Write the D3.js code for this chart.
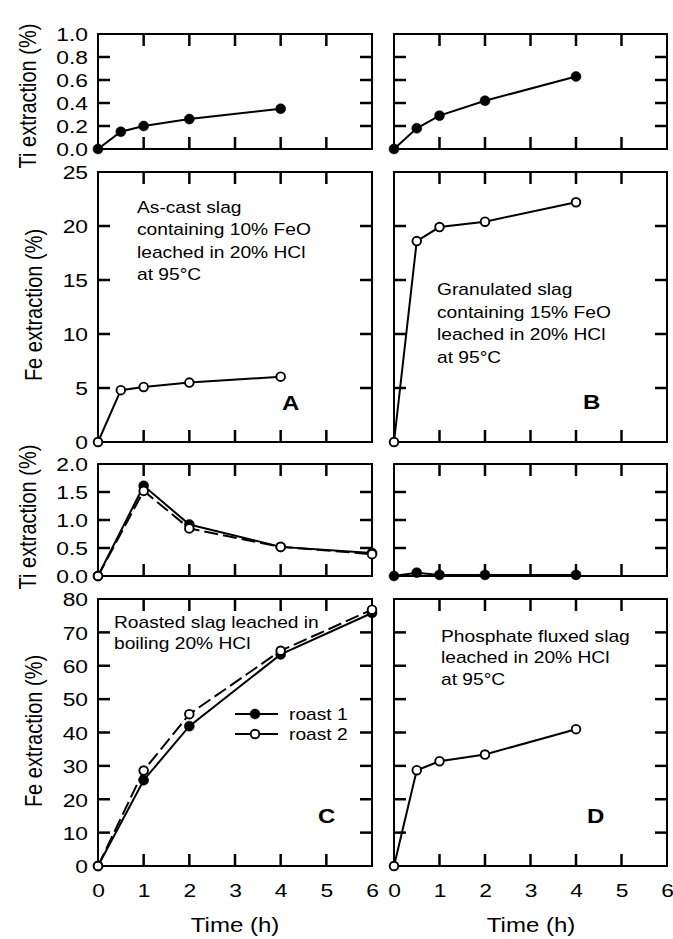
<!DOCTYPE html>
<html>
<head>
<meta charset="utf-8">
<script src="https://cdn.jsdelivr.net/npm/d3@7"></script>
<style>
body { margin: 0; background: #fff; }
svg text { font-family: "Liberation Sans", Arial, Helvetica, sans-serif; fill: #000; }
</style>
</head>
<body>
<div id="chart"></div>
<script>
// leaching times (h)
const timeAB = [0, 0.5, 1, 2, 4]
const timeC = [0, 1, 2, 4, 6]
const timeD = [0, 0.5, 1, 2, 4]

// A: as-cast slag, B: granulated slag
const tiA = [0, 0.15, 0.2, 0.26, 0.35]
const feA = [0, 4.8, 5.1, 5.5, 6.05]
const tiB = [0, 0.18, 0.29, 0.42, 0.63]
const feB = [0, 18.6, 19.9, 20.4, 22.2]

// C: roasted slag, two roasts
const tiRoast1 = [0, 1.61, 0.92, 0.52, 0.41]
const tiRoast2 = [0, 1.52, 0.85, 0.52, 0.39]
const feRoast1 = [0, 25.7, 41.9, 63.4, 75.8]
const feRoast2 = [0, 28.6, 45.5, 64.5, 76.8]

// D: phosphate fluxed slag
const tiD = [0, 0.06, 0.02, 0.02, 0.02]
const feD = [0, 28.7, 31.4, 33.4, 41.0]

// tick labels
const xTicks = [0, 1, 2, 3, 4, 5, 6]
const tiTicksAB = [0, 0.2, 0.4, 0.6, 0.8, 1.0]
const feTicksAB = [0, 5, 10, 15, 20, 25]
const tiTicksCD = [0, 0.5, 1.0, 1.5, 2.0]
const feTicksCD = [0, 10, 20, 30, 40, 50, 60, 70, 80]

const W = 673, H = 939
const sx = 1.2   // the scanned type is a bit wider than tall
const tickLen = 12

const svg = d3.select("#chart")
    .append("svg")
    .attr("width", W)
    .attr("height", H)

const cols = [[98, 372], [394, 667]]
const rows = [[34, 149], [172, 442], [464, 576], [599, 866]]
const panels = []

function wide(sel, x, y) {
    return sel.attr("transform", `translate(${x},${y}) scale(${sx},1)`)
}

function panel(col, row, yTicks, fmt) {
    const [x0, x1] = cols[col], [y0, y1] = rows[row]
    const x = d3.scaleLinear().domain([0, 6]).range([x0, x1])
    const y = d3.scaleLinear().domain([0, yTicks[yTicks.length - 1]]).range([y1, y0])
    const g = svg.append("g")

    g.append("rect")
        .attr("x", x0).attr("y", y0)
        .attr("width", x1 - x0).attr("height", y1 - y0)
        .attr("fill", "none")
        .attr("stroke", "#000")
        .attr("stroke-width", 2)

    if (col === 0) {
        const ax = g.append("g").attr("transform", `translate(${x0},0)`)
            .call(d3.axisLeft(y).tickValues(yTicks).tickSize(0).tickFormat(fmt))
        ax.select(".domain").remove()
        ax.selectAll(".tick text")
            .attr("x", null).attr("dy", "0.36em")
            .style("font-size", "19px")
            .attr("transform", `translate(-10,0) scale(${sx},1)`)
    }
    if (row === 3) {
        const ax = g.append("g").attr("transform", `translate(0,${y1})`)
            .call(d3.axisBottom(x).tickValues(xTicks).tickSize(0).tickFormat(d3.format("d")))
        ax.select(".domain").remove()
        ax.selectAll(".tick text")
            .attr("y", null).attr("dy", null)
            .style("font-size", "19px")
            .attr("transform", `translate(0,31) scale(${sx},1)`)
    }
    const p = {g, x, y, x0, x1, y0, y1, yTicks}
    panels.push(p)
    return p
}

// inward tick marks on all four sides of every panel, drawn last
function drawTicks() {
    const segs = []
    panels.forEach(p => {
        p.yTicks.slice(1, -1).forEach(v => {
            segs.push([p.x0, p.y(v), p.x0 + tickLen, p.y(v)])
            segs.push([p.x1, p.y(v), p.x1 - tickLen, p.y(v)])
        })
        xTicks.slice(1, -1).forEach(v => {
            segs.push([p.x(v), p.y0, p.x(v), p.y0 + tickLen])
            segs.push([p.x(v), p.y1, p.x(v), p.y1 - tickLen])
        })
    })
    svg.append("g")
        .attr("class", "frame-ticks")
        .selectAll("line")
        .data(segs)
        .join("line")
        .attr("x1", d => d[0]).attr("y1", d => d[1])
        .attr("x2", d => d[2]).attr("y2", d => d[3])
        .style("stroke", "#000")
        .style("stroke-width", "2.5px")
        .style("stroke-linecap", "butt")
}

function trace(p, xs, ys, dash) {
    const pts = xs.map((t, i) => [t, ys[i]])
    p.g.append("path")
        .datum(pts)
        .attr("d", d3.line().x(d => p.x(d[0])).y(d => p.y(d[1])))
        .attr("fill", "none")
        .attr("stroke", "#000")
        .attr("stroke-width", 2)
        .attr("stroke-dasharray", dash || null)
}

function dots(p, xs, ys, filled) {
    const pts = xs.map((t, i) => [t, ys[i]])
    p.g.append("g").selectAll("circle")
        .data(pts)
        .join("circle")
        .attr("cx", d => p.x(d[0]))
        .attr("cy", d => p.y(d[1]))
        .attr("r", filled ? 5 : 4.3)
        .attr("fill", filled ? "#000" : "#fff")
        .attr("stroke", "#000")
        .attr("stroke-width", filled ? 0.5 : 1.9)
}

function note(lines, x, y, step, size, bold) {
    lines.forEach((t, i) => {
        wide(svg.append("text"), x, y + i * step)
            .style("font-size", size + "px")
            .style("font-weight", bold ? "bold" : "normal")
            .text(t)
    })
}

function ylabel(t, x, cy) {
    svg.append("text")
        .attr("transform", `translate(${x},${cy}) scale(${sx},1) rotate(-90)`)
        .attr("text-anchor", "middle")
        .style("font-size", "20px")
        .text(t)
}

const f1 = d3.format(".1f"), f0 = d3.format("d")

// rows 1 and 2: panels A and B
const pTiA = panel(0, 0, tiTicksAB, f1)
const pTiB = panel(1, 0, tiTicksAB, f1)
const pFeA = panel(0, 1, feTicksAB, f0)
const pFeB = panel(1, 1, feTicksAB, f0)
// rows 3 and 4: panels C and D
const pTiC = panel(0, 2, tiTicksCD, f1)
const pTiD = panel(1, 2, tiTicksCD, f1)
const pFeC = panel(0, 3, feTicksCD, f0)
const pFeD = panel(1, 3, feTicksCD, f0)

trace(pTiA, timeAB, tiA); dots(pTiA, timeAB, tiA, true)
trace(pTiB, timeAB, tiB); dots(pTiB, timeAB, tiB, true)
trace(pFeA, timeAB, feA); dots(pFeA, timeAB, feA, false)
trace(pFeB, timeAB, feB); dots(pFeB, timeAB, feB, false)

trace(pTiC, timeC, tiRoast2, "14,5"); trace(pTiC, timeC, tiRoast1)
dots(pTiC, timeC, tiRoast1, true); dots(pTiC, timeC, tiRoast2, false)
trace(pTiD, timeD, tiD); dots(pTiD, timeD, tiD, true)

trace(pFeC, timeC, feRoast2, "14,5"); trace(pFeC, timeC, feRoast1)
dots(pFeC, timeC, feRoast1, true); dots(pFeC, timeC, feRoast2, false)
trace(pFeD, timeD, feD); dots(pFeD, timeD, feD, false)

// legend in C
const leg = svg.append("g")
;[["roast 1", true, 714], ["roast 2", false, 734]].forEach(([t, filled, ly]) => {
    leg.append("line").attr("x1", 235).attr("x2", 278).attr("y1", ly).attr("y2", ly)
        .attr("stroke", "#000").attr("stroke-width", 2)
    leg.append("circle").attr("cx", 255).attr("cy", ly).attr("r", filled ? 5 : 4.3)
        .attr("fill", filled ? "#000" : "#fff").attr("stroke", "#000")
        .attr("stroke-width", filled ? 0.5 : 1.9)
    wide(leg.append("text"), 289, ly + 6).style("font-size", "16px").text(t)
})

// panel notes
note(["As-cast slag", "containing 10% FeO", "leached in 20% HCl", "at 95°C"], 137, 212.5, 22.5, 16)
note(["Granulated slag", "containing 15% FeO", "leached in 20% HCl", "at 95°C"], 437, 295, 22.5, 16)
note(["Roasted slag leached in", "boiling 20% HCl"], 114, 627.5, 21.5, 16)
note(["Phosphate fluxed slag", "leached in 20% HCl", "at 95°C"], 441, 641.5, 21.5, 16)
note(["A"], 282, 410, 0, 20, true)
note(["B"], 583, 409, 0, 20, true)
note(["C"], 318, 823, 0, 20, true)
note(["D"], 587, 823, 0, 20, true)

// axis titles
ylabel("Ti extraction (%)", 36, 96)
ylabel("Fe extraction (%)", 42, 305)
ylabel("Ti extraction (%)", 36, 517)
ylabel("Fe extraction (%)", 42, 731)

;[235, 531].forEach(cx => {
    wide(svg.append("text"), cx, 932)
        .attr("text-anchor", "middle")
        .style("font-size", "20px")
        .text("Time (h)")
})

drawTicks()
</script>
</body>
</html>
